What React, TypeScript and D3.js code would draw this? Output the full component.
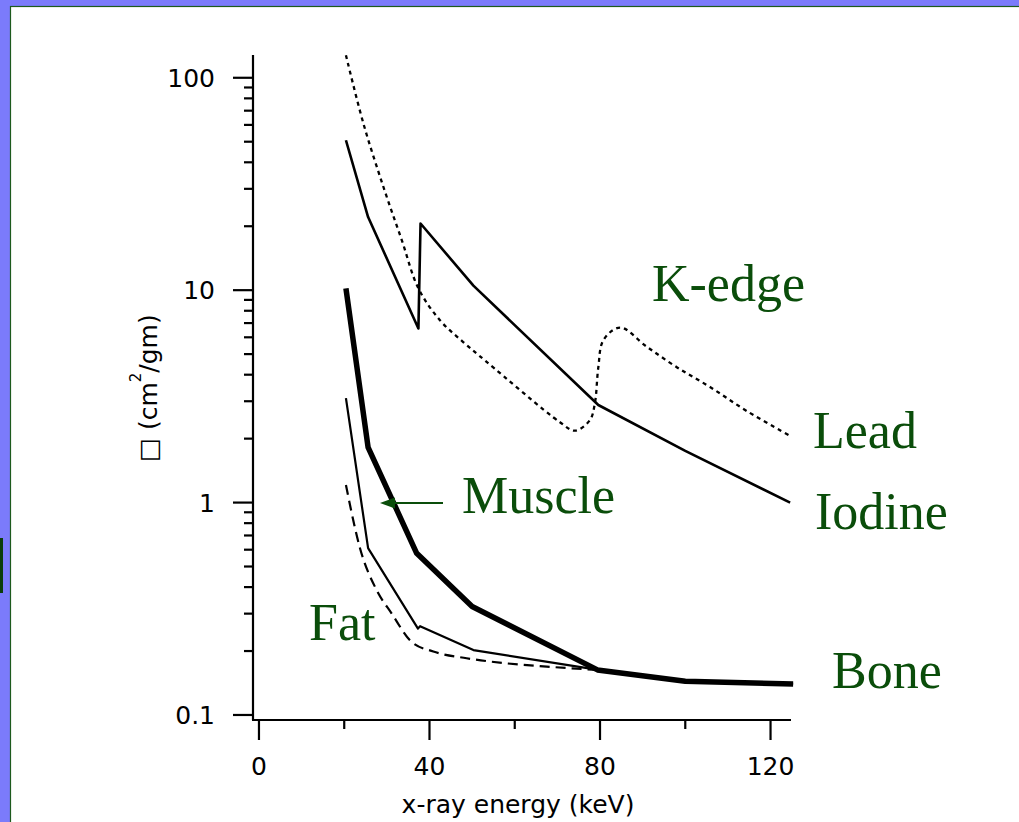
import React from "react";
import * as d3 from "d3";

// ---- data ----
const X_TICKS = [0, 40, 80, 120];
const X_MINOR = [20, 60, 100];
const Y_TICKS = [0.1, 1, 10, 100];
const Y_TICK_LABELS = ["0.1", "1", "10", "100"];

const IODINE_E = [20.4, 25.6, 37.4, 37.9, 50.3, 79.6, 100, 124.6];
const IODINE_MU = [50.8, 22.1, 6.6, 20.6, 10.5, 2.88, 1.75, 1.0];

const LEAD_E = [20.4, 24.5, 29.2, 33.5, 37.4, 42.5, 47.9, 53.4, 70.6, 74.1, 77.6, 78.8, 79.6, 80.8, 84.7, 90.9, 98.0, 105.8, 114.4, 125.0];
const LEAD_MU = [127.7, 60.9, 30.6, 17.2, 10.2, 7.2, 5.7, 4.6, 2.39, 2.18, 2.44, 2.94, 4.33, 5.82, 6.67, 5.43, 4.34, 3.5, 2.7, 2.04];

const BONE_E = [20.4, 25.6, 37.0, 50.0, 79.4, 100, 125.3];
const BONE_MU = [10.2, 1.82, 0.577, 0.324, 0.163, 0.144, 0.14];

const MUSCLE_E = [20.4, 25.6, 37.3, 37.8, 50.3, 79.6, 100, 125.3];
const MUSCLE_MU = [3.1, 0.61, 0.255, 0.262, 0.202, 0.163, 0.144, 0.14];

const FAT_E = [20.4, 23.7, 27.6, 31.1, 35.8, 40.9, 48.7, 58.1, 67.5, 72.8, 79.6];
const FAT_MU = [1.21, 0.61, 0.387, 0.301, 0.221, 0.199, 0.185, 0.175, 0.169, 0.166, 0.163];

const X_TITLE = "x-ray energy (keV)";

const GREEN = "#0a4d0a";

export default function App() {
  const W = 1019, H = 822;
  const x = d3.scaleLinear().domain([-1.4, 124.8]).range([253, 791]);
  const y = d3.scaleLog().domain([0.0947, 128]).range([720, 55]);

  const mk = (es: number[], ms: number[]) => es.map((e, i) => [e, ms[i]] as [number, number]);
  const straight = d3.line<[number, number]>().x(d => x(d[0])).y(d => y(d[1]));
  const smooth = d3.line<[number, number]>().x(d => x(d[0])).y(d => y(d[1])).curve(d3.curveCatmullRom.alpha(0.5));
  const mono = d3.line<[number, number]>().x(d => x(d[0])).y(d => y(d[1])).curve(d3.curveMonotoneX);

  const minor: number[] = [];
  [0.1, 1, 10].forEach(dec => { for (let k = 2; k <= 9; k++) minor.push(dec * k); });

  const axisFont = "DejaVu Sans, Verdana, sans-serif";
  const serif = "Liberation Serif, Times New Roman, serif";

  return (
    <svg width={W} height={H} style={{ position: "absolute", left: 0, top: 0 }}>
      <rect x={0} y={0} width={W} height={H} fill="#7b7bfb" />
      <rect x={10.5} y={6.5} width={W} height={H} fill="#ffffff" stroke="#1d5a1d" strokeWidth={1.2} />
      <rect x={0} y={538} width={3} height={55} fill="#0b3d0b" />

      {/* axes */}
      <line x1={x(-1.4)} x2={x(-1.4)} y1={y(128)} y2={720} stroke="#000" strokeWidth={2.2} />
      <line x1={x(-1.4) - 1} x2={x(124.8)} y1={720} y2={720} stroke="#000" strokeWidth={2.2} />
      {Y_TICKS.map((t, i) => (
        <g key={"yt" + i}>
          <line x1={233} x2={253} y1={y(t)} y2={y(t)} stroke="#000" strokeWidth={2.2} />
          <text x={215} y={y(t)} dy="0.36em" textAnchor="end" fontFamily={axisFont} fontSize={25}>{Y_TICK_LABELS[i]}</text>
        </g>
      ))}
      {minor.map((t, i) => (
        <line key={"ym" + i} x1={244} x2={253} y1={y(t)} y2={y(t)} stroke="#000" strokeWidth={2.2} />
      ))}
      {X_TICKS.map((t, i) => (
        <g key={"xt" + i}>
          <line x1={x(t)} x2={x(t)} y1={720} y2={740} stroke="#000" strokeWidth={2.2} />
          <text x={x(t)} y={775} textAnchor="middle" fontFamily={axisFont} fontSize={25}>{String(t)}</text>
        </g>
      ))}
      {X_MINOR.map((t, i) => (
        <line key={"xm" + i} x1={x(t)} x2={x(t)} y1={720} y2={729} stroke="#000" strokeWidth={2.2} />
      ))}
      <text x={518} y={813} textAnchor="middle" fontFamily={axisFont} fontSize={25}>{X_TITLE}</text>
      <text transform="translate(157,388) rotate(-90)" textAnchor="middle" fontFamily={axisFont} fontSize={25}>
        <tspan>□ (cm</tspan>
        <tspan dy={-16} fontSize={15}>2</tspan>
        <tspan dy={16}>/gm)</tspan>
      </text>

      {/* curves */}
      <path d={smooth(mk(LEAD_E, LEAD_MU)) || ""} fill="none" stroke="#000" strokeWidth={2.3} strokeDasharray="4,4" />
      <path d={straight(mk(IODINE_E, IODINE_MU)) || ""} fill="none" stroke="#000" strokeWidth={2.6} strokeLinejoin="round" />
      <path d={mono(mk(FAT_E, FAT_MU)) || ""} fill="none" stroke="#000" strokeWidth={2.2} strokeDasharray="10,6" />
      <path d={straight(mk(MUSCLE_E, MUSCLE_MU)) || ""} fill="none" stroke="#000" strokeWidth={2.2} strokeLinejoin="round" />
      <path d={straight(mk(BONE_E, BONE_MU)) || ""} fill="none" stroke="#000" strokeWidth={5.5} strokeLinejoin="round" />

      {/* labels */}
      <text x={652} y={301} fontFamily={serif} fontSize={52} fill={GREEN}>K-edge</text>
      <text x={813} y={448} fontFamily={serif} fontSize={52} fill={GREEN}>Lead</text>
      <text x={815} y={529} fontFamily={serif} fontSize={52} fill={GREEN}>Iodine</text>
      <text x={462} y={513} fontFamily={serif} fontSize={52} fill={GREEN}>Muscle</text>
      <text x={309} y={640} fontFamily={serif} fontSize={52} fill={GREEN}>Fat</text>
      <text x={832} y={688} fontFamily={serif} fontSize={52} fill={GREEN}>Bone</text>
      <line x1={443} x2={392} y1={503} y2={503} stroke={GREEN} strokeWidth={2} />
      <path d="M380,503 L395,497.5 L395,508.5 Z" fill={GREEN} />
    </svg>
  );
}
